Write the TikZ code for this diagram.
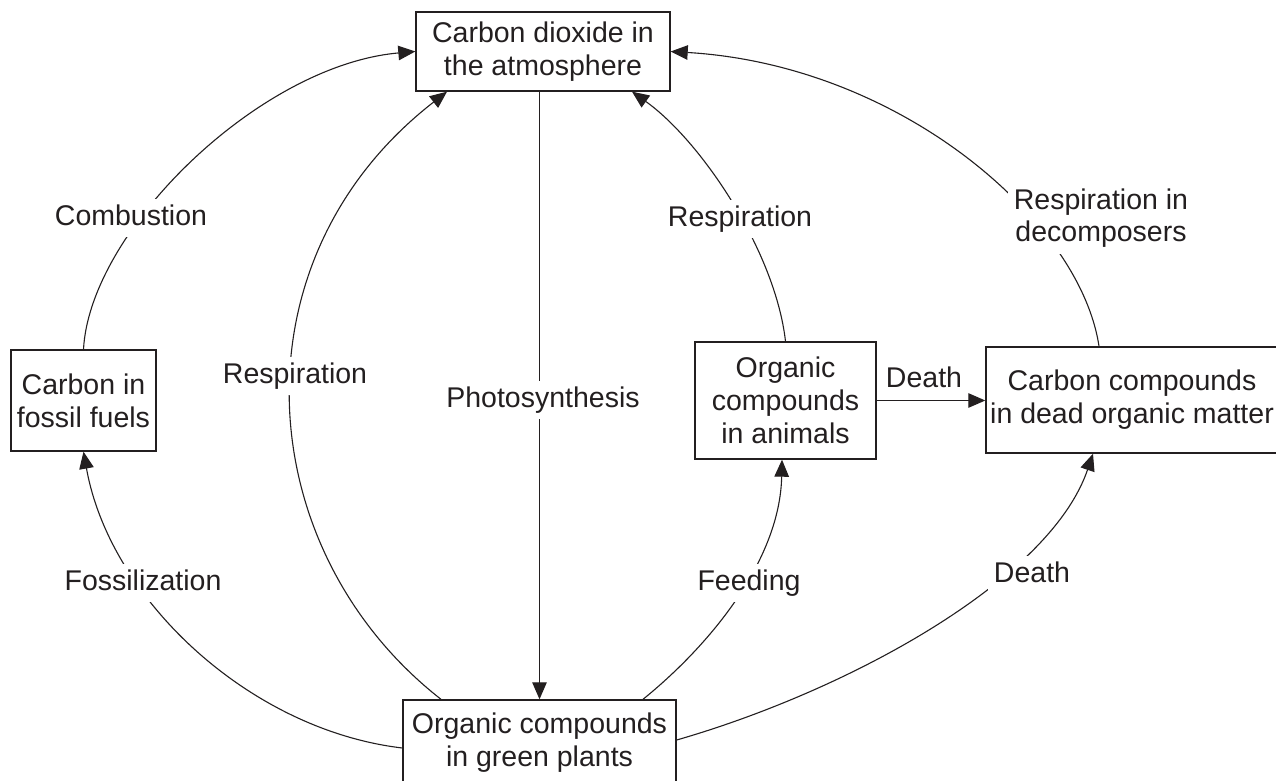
\documentclass[tikz,border=0pt]{standalone}
\usepackage{fontspec}
\setmainfont{Liberation Sans}
\usetikzlibrary{arrows.meta}
\definecolor{ink}{RGB}{35,31,32}
\begin{document}
\begin{tikzpicture}[x=1pt,y=1pt,
  box/.style={draw=ink, line width=1.4pt, inner sep=0pt, align=center, text=ink, font=\fontsize{28.5}{33}\selectfont},
  lbl/.style={fill=white, inner sep=6pt, text=ink, font=\fontsize{28.5}{32.5}\selectfont, text height=20.5pt, text depth=6pt},
  lbltwo/.style={fill=white, inner sep=6pt, text=ink, font=\fontsize{28.5}{32.5}\selectfont, align=center},
  conn/.style={draw=ink, line width=1.1pt},
  arr/.style={conn, -{Triangle[length=17pt,width=14.5pt]}}
]
\useasboundingbox (0,0) rectangle (1276,780);
\fill[white] (0,0) rectangle (1276,780);

% boxes
\node[box, minimum width=254pt, minimum height=79pt] (co2) at (543,728.5) {Carbon dioxide in\\the atmosphere};
\node[box, minimum width=273pt, minimum height=86pt] (plants) at (539.5,37) {Organic compounds\\in green plants};
\node[box, minimum width=145pt, minimum height=101pt] (fossil) at (83.5,379.5) {Carbon in\\fossil fuels};
\node[box, minimum width=181pt, minimum height=117pt] (animals) at (785.5,379.5) {Organic\\compounds\\in animals};
\node[box, minimum width=292pt, minimum height=106pt] (dead) at (1132,380) {Carbon compounds\\in dead organic matter};

% connectors
\draw[arr] (co2.south -| plants.north) -- (plants.north);
\draw[arr] (fossil.north) .. controls (90,550) and (260,715) .. (co2.west);
\draw[arr] ([yshift=-5pt]plants.west) .. controls (250,50) and (110,180) .. (fossil.south);
\draw[arr] ([xshift=-98.5pt]plants.north) .. controls (250,230) and (230,520) .. ([xshift=-96pt]co2.south);
\draw[arr] (animals.north) .. controls (775,530) and (700,640) .. ([xshift=89pt]co2.south);
\draw[arr] ([xshift=-33pt]dead.north) .. controls (1080,560) and (900,715) .. (co2.east);
\draw[arr] ([xshift=103.5pt]plants.north) .. controls (710,135) and (780,220) .. ([xshift=-3.5pt]animals.south);
\draw[arr] ([yshift=3pt]plants.east) .. controls (850,90) and (1050,200) .. ([xshift=-39pt]dead.south);
\draw[arr] (animals.east) -- (animals.east -| dead.west);

% labels
\node[lbl] (lcomb) at (131,562) {Combustion};
\node[lbl] (lresp1) at (295,404) {Respiration};
\node[lbl] (lphoto) at (543,380) {Photosynthesis};
\node[lbl] (lresp2) at (740,561) {Respiration};
\node[lbltwo] (lresp3) at (1101,562) {Respiration in\\decomposers};
\node[lbl] (lfoss) at (143,197) {Fossilization};
\node[lbl] (lfeed) at (749,197) {Feeding};
\node[lbl] (ldeath1) at (1032,205) {Death};
\node[lbl, fill=none] (ldeath2) at (924,400) {Death};
\end{tikzpicture}
\end{document}
